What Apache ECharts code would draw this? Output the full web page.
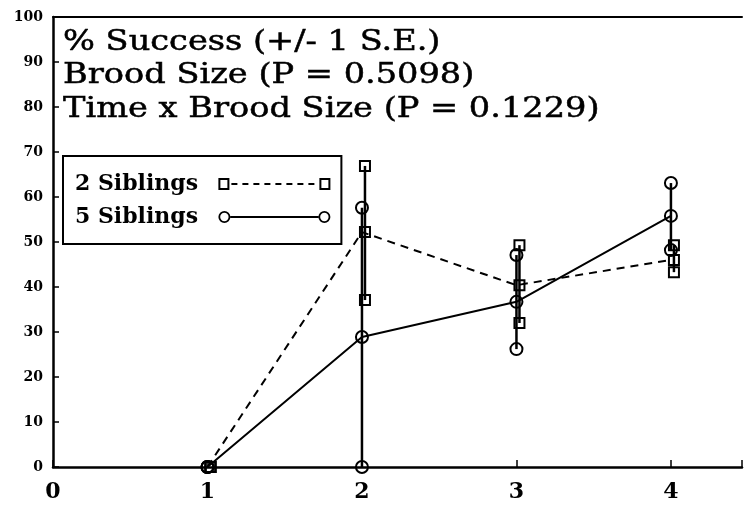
<!DOCTYPE html>
<html>
<head>
<meta charset="utf-8">
<script src="https://cdn.jsdelivr.net/npm/echarts@6/dist/echarts.min.js"></script>
<style>
  html, body { margin: 0; padding: 0; background: #fff; }
  #chart { width: 745px; height: 507px; }
</style>
</head>
<body>
<div id="chart"></div>
<script>
// data
var days = [1, 2, 3, 4];
var twoMean = [0, 52.2, 40.4, 46.0];
var twoLow = [0, 37.1, 32.0, 43.3];
var twoHigh = [0, 66.9, 49.3, 49.3];
var fiveMean = [0, 28.9, 36.7, 55.8];
var fiveLow = [0, 0, 26.2, 48.2];
var fiveHigh = [0, 57.6, 47.1, 63.1];
var titleLines = ['% Success (+/- 1 S.E.)', 'Brood Size (P = 0.5098)', 'Time x Brood Size (P = 0.1229)'];

var mycharts = echarts.init(document.getElementById('chart'));

function errorBar(kind, dx) {
  return function (params, api) {
    var x = api.value(0);
    var lo = api.coord([x, api.value(1)]);
    var hi = api.coord([x, api.value(2)]);
    lo[0] += dx; hi[0] += dx;
    var kids = [{
      type: 'line',
      shape: { x1: lo[0], y1: lo[1], x2: hi[0], y2: hi[1] },
      style: { stroke: '#000', lineWidth: 2.5 }
    }];
    [lo, hi].forEach(function (p) {
      if (kind === 'rect') {
        kids.push({ type: 'rect', shape: { x: p[0] - 5, y: p[1] - 5, width: 10, height: 10 },
          style: { fill: 'none', stroke: '#000', lineWidth: 2 } });
      } else {
        kids.push({ type: 'circle', shape: { cx: p[0], cy: p[1], r: 6 },
          style: { fill: 'none', stroke: '#000', lineWidth: 2 } });
      }
    });
    return { type: 'group', children: kids };
  };
}

// legend samples: marker - line - marker
var squareIcon = 'path://M0,0 H11 V12 H0 Z M2,2 V10 H9 V2 Z M101,0 H112 V12 H101 Z M103,2 V10 H110 V2 Z' +
  ' M13,5 H19 V7 H13 Z M24,5 H30 V7 H24 Z M35,5 H41 V7 H35 Z M46,5 H52 V7 H46 Z' +
  ' M57,5 H63 V7 H57 Z M68,5 H74 V7 H68 Z M79,5 H85 V7 H79 Z M90,5 H96 V7 H90 Z';
var circleIcon = 'path://M0,6 A6,6 0 1,1 12,6 A6,6 0 1,1 0,6 Z M1.8,6 A4.2,4.2 0 1,0 10.2,6 A4.2,4.2 0 1,0 1.8,6 Z' +
  ' M100,6 A6,6 0 1,1 112,6 A6,6 0 1,1 100,6 Z M101.8,6 A4.2,4.2 0 1,0 110.2,6 A4.2,4.2 0 1,0 101.8,6 Z' +
  ' M12,5 H100 V7 H12 Z';

var option = {
  backgroundColor: '#fff',
  animation: false,
  grid: { left: 53, right: 0, top: 17, bottom: 40 },
  graphic: titleLines.map(function (t, i) {
    return {
      type: 'text', x: 63, y: [43, 76, 110][i], scaleX: 1.2,
      style: { text: t, fill: '#000', stroke: '#000', lineWidth: 0.5, font: '28px "DejaVu Serif"', verticalAlign: 'middle' }
    };
  }),
  legend: {
    orient: 'vertical', left: 63, top: 156, align: 'right',
    padding: [17, 11, 16, 12], itemGap: 11, itemWidth: 112, itemHeight: 12,
    borderColor: '#000', borderWidth: 2, backgroundColor: '#fff',
    formatter: function (name) { return name + '  '; },
    textStyle: { fontFamily: 'DejaVu Serif', fontWeight: 'bold', fontSize: 22, color: '#000' },
    itemStyle: { color: '#000', borderWidth: 0 },
    data: [{ name: '2 Siblings', icon: squareIcon }, { name: '5 Siblings', icon: circleIcon }]
  },
  xAxis: [{
    type: 'value', min: 0, max: 4.46, interval: 1,
    axisLine: { lineStyle: { color: '#000', width: 2.5 } },
    axisTick: { inside: true, length: 7, lineStyle: { color: '#000', width: 1.5 } },
    axisLabel: {
      formatter: function (v) { return Number.isInteger(v) ? String(v) : ''; },
      color: '#000', fontSize: 22, fontWeight: 'bold', fontFamily: 'DejaVu Serif', margin: 14
    },
    splitLine: { show: false }
  }, {
    type: 'value', position: 'top', min: 0, max: 4.46,
    axisLine: { show: true, lineStyle: { color: '#000', width: 2 } },
    axisTick: { show: false }, axisLabel: { show: false }, splitLine: { show: false }
  }],
  yAxis: {
    type: 'value', min: 0, max: 100, interval: 10,
    axisLine: { show: true, lineStyle: { color: '#000', width: 2.5 } },
    axisTick: { show: true, inside: true, length: 6, lineStyle: { color: '#000', width: 1.5 } },
    axisLabel: { color: '#000', fontSize: 14, fontWeight: 'bold', fontFamily: 'DejaVu Serif', margin: 10 },
    splitLine: { show: false }
  },
  series: [
    {
      name: '2 Siblings SE', type: 'custom', renderItem: errorBar('rect', 3),
      encode: { x: 0, y: [1, 2] },
      data: days.map(function (d, i) { return [d, twoLow[i], twoHigh[i]]; })
    },
    {
      name: '5 Siblings SE', type: 'custom', renderItem: errorBar('circle', 0),
      encode: { x: 0, y: [1, 2] },
      data: days.map(function (d, i) { return [d, fiveLow[i], fiveHigh[i]]; })
    },
    {
      name: '2 Siblings', type: 'line', symbol: 'rect', symbolSize: 10, symbolOffset: [3, 0],
      lineStyle: { color: '#000', width: 2, type: [8, 6] },
      itemStyle: { color: 'transparent', borderColor: '#000', borderWidth: 2 },
      data: days.map(function (d, i) { return [d, twoMean[i]]; })
    },
    {
      name: '5 Siblings', type: 'line', symbol: 'circle', symbolSize: 12,
      lineStyle: { color: '#000', width: 2 },
      itemStyle: { color: 'transparent', borderColor: '#000', borderWidth: 2 },
      data: days.map(function (d, i) { return [d, fiveMean[i]]; })
    }
  ]
};
mycharts.setOption(option);
</script>
</body>
</html>
